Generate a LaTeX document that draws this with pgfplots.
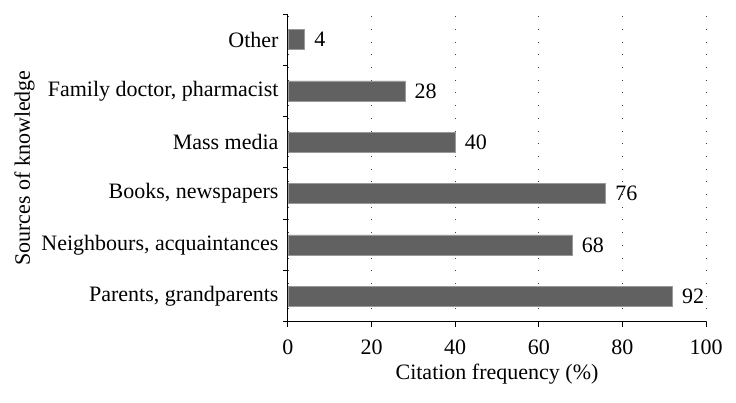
\documentclass[border=0pt]{standalone}
\usepackage{fontspec}
\setmainfont{Liberation Serif}
\usepackage{pgfplots}
\pgfplotsset{compat=1.18}
\begin{document}
\begin{tikzpicture}
\begin{axis}[
  name=ax,
  scale only axis,
  width=418pt, height=308pt,
  xbar, bar width=20pt,
  xmin=0, xmax=100,
  ymin=-0.5, ymax=5.5,
  axis x line*=bottom, axis y line*=left,
  axis line style={line width=1pt},
  xtick={0,20,...,100},
  ytick={0,...,5},
  yticklabels={{Parents, grandparents}, {Neighbours, acquaintances}, {Books, newspapers}, {Mass media}, {Family doctor, pharmacist}, {Other}},
  yticklabel style={font=\fontsize{22}{25}\selectfont, xshift=-1pt},
  xticklabel style={font=\fontsize{22}{25}\selectfont, yshift=-9pt},
  major y tick style={draw=none},
  minor ytick={-0.5,0.5,...,5.5},
  minor tick length=5pt,
  major tick length=5pt,
  tick align=outside,
  tick style={black, line width=1pt},
  xmajorgrids,
  grid style={black!75, line width=0.9pt, dash pattern=on 0.9pt off 11.8pt},
  /pgf/number format/assume math mode=true,
  xlabel={Citation frequency (\%)},
  ylabel={Sources of knowledge},
  label style={font=\fontsize{22}{25}\selectfont},
  xlabel style={yshift=-3pt},
  ylabel style={yshift=0pt},
  nodes near coords,
  every node near coord/.append style={font=\fontsize{22}{25}\selectfont, black, xshift=6pt},
  clip=false,
]
\addplot[fill=black!62, draw=black!40, line width=0.6pt] coordinates {
 (92,0) (68,1) (76,2) (40,3) (28,4) (4,5)
};
\end{axis}
\path ([xshift=-288pt,yshift=-81pt]ax.south west) rectangle ([xshift=30pt,yshift=14pt]ax.north east);
\end{tikzpicture}
\end{document}
